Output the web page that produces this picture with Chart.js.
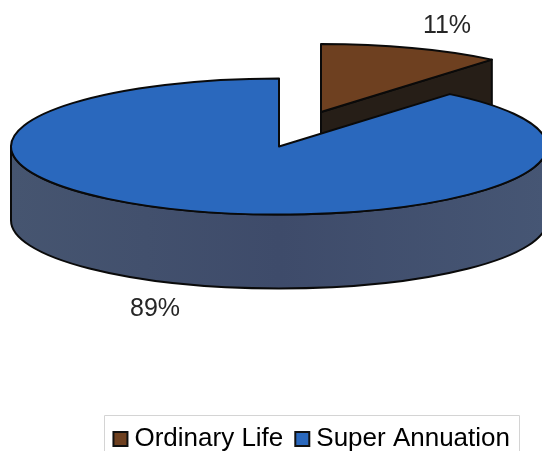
<!DOCTYPE html>
<html>
<head>
<meta charset="utf-8">
<style>html,body{margin:0;padding:0;background:#fff;overflow:hidden}canvas{display:block}</style>
<script src="https://cdn.jsdelivr.net/npm/chart.js@4/dist/chart.umd.js"></script>
</head>
<body>
<canvas id="c" width="542" height="451"></canvas>
<script>
const categories = ['Ordinary Life', 'Super Annuation'];
const shares = [11, 89];
const shareLabels = ['11%', '89%'];
const topColors = ['#6e4020', '#2a68bd'];

// Projection of the flat pie onto the tilted disc
const disc = {cx: 279, cy: 146.5, rx: 268, ry: 68, depth: 74};
const explode = [{dx: 42, dy: -34.5}, {dx: 0, dy: 0}];
const labelSpots = [{x: 447, y: 26}, {x: 155, y: 309}];
const legendFrame = {left: 104.5, top: 415.5, right: 519.5};
const wallDark = '#261e17';

const pie3d = {
  id: 'pie3d',
  afterLayout(chart) {
    // sit the legend row lower, its frame runs off the bottom of the page
    const lg = chart.legend;
    lg.top += 11; lg.bottom += 11;
    lg.adjustHitBoxes();
  },
  beforeDatasetsDraw(chart) {
    const ctx = chart.ctx;
    const arcs = chart.getDatasetMeta(0).data;
    const geo = arcs.map((arc, i) => {
      const p = arc.getProps(['x', 'y', 'startAngle', 'endAngle', 'outerRadius'], true);
      return {arc, p, cx: disc.cx + explode[i].dx, cy: disc.cy + explode[i].dy};
    });
    const pt = (g, a, dz) => [g.cx + disc.rx * Math.cos(a), g.cy + disc.ry * Math.sin(a) + (dz || 0)];
    const face = (g) => {
      const s = disc.rx / g.p.outerRadius, t = disc.ry / g.p.outerRadius;
      ctx.save();
      ctx.translate(g.cx, g.cy);
      ctx.scale(s, t);
      ctx.translate(-g.p.x, -g.p.y);
      g.arc.draw(ctx);
      ctx.restore();
      ctx.beginPath();
      ctx.moveTo(g.cx, g.cy);
      ctx.ellipse(g.cx, g.cy, disc.rx, disc.ry, 0, g.p.startAngle, g.p.endAngle);
      ctx.closePath();
      ctx.stroke();
    };
    ctx.save();
    ctx.lineWidth = 2;
    ctx.lineJoin = 'round';
    ctx.strokeStyle = '#0a0a0a';

    // exploded slice: cut wall first, then its top
    const a = geo[0];
    const tip = pt(a, a.p.endAngle);
    ctx.beginPath();
    ctx.moveTo(a.cx, a.cy);
    ctx.lineTo(tip[0], tip[1]);
    ctx.lineTo(tip[0], tip[1] + disc.depth);
    ctx.lineTo(a.cx, a.cy + disc.depth);
    ctx.closePath();
    ctx.fillStyle = wallDark;
    ctx.fill();
    ctx.stroke();
    face(a);

    // main slice: curved front wall, then its top
    const b = geo[1];
    const grad = ctx.createLinearGradient(b.cx - disc.rx, 0, b.cx + disc.rx, 0);
    grad.addColorStop(0, '#465570');
    grad.addColorStop(0.5, '#3e4b6a');
    grad.addColorStop(1, '#465674');
    ctx.beginPath();
    ctx.ellipse(b.cx, b.cy, disc.rx, disc.ry, 0, 0, Math.PI);
    ctx.lineTo(b.cx - disc.rx, b.cy + disc.depth);
    ctx.ellipse(b.cx, b.cy + disc.depth, disc.rx, disc.ry, 0, Math.PI, 0, true);
    ctx.closePath();
    ctx.fillStyle = grad;
    ctx.fill();
    ctx.stroke();
    face(b);
    ctx.restore();
    return false;
  },
  afterDraw(chart) {
    const ctx = chart.ctx;
    ctx.save();
    ctx.font = '25px "Liberation Sans", Arial, sans-serif';
    ctx.fillStyle = '#262626';
    ctx.textAlign = 'center';
    ctx.textBaseline = 'middle';
    shareLabels.forEach((t, i) => ctx.fillText(t, labelSpots[i].x, labelSpots[i].y));
    // legend frame, open at the page's bottom edge
    ctx.strokeStyle = '#d4d4d4';
    ctx.lineWidth = 1;
    ctx.beginPath();
    ctx.moveTo(legendFrame.left, chart.height);
    ctx.lineTo(legendFrame.left, legendFrame.top);
    ctx.lineTo(legendFrame.right, legendFrame.top);
    ctx.lineTo(legendFrame.right, chart.height);
    ctx.stroke();
    ctx.restore();
  }
};

new Chart(document.getElementById('c'), {
  type: 'pie',
  data: {
    labels: categories,
    datasets: [{data: shares, backgroundColor: topColors, borderWidth: 0}]
  },
  plugins: [pie3d],
  options: {
    responsive: false,
    animation: false,
    rotation: 0,
    layout: {padding: {right: 14}},
    plugins: {
      tooltip: {enabled: false},
      legend: {
        position: 'bottom',
        align: 'end',
        labels: {
          usePointStyle: true,
          pointStyle: 'rect',
          boxWidth: 2,
          boxHeight: 14,
          padding: 18,
          color: '#1a1a1a',
          font: {size: 26, family: '"Liberation Sans", Arial, sans-serif'},
          generateLabels(chart) {
            return categories.map((name, i) => ({
              text: name,
              fillStyle: topColors[i],
              strokeStyle: '#111',
              lineWidth: 2,
              pointStyle: 'rect',
              index: i
            }));
          }
        }
      }
    }
  }
});
</script>
</body>
</html>
